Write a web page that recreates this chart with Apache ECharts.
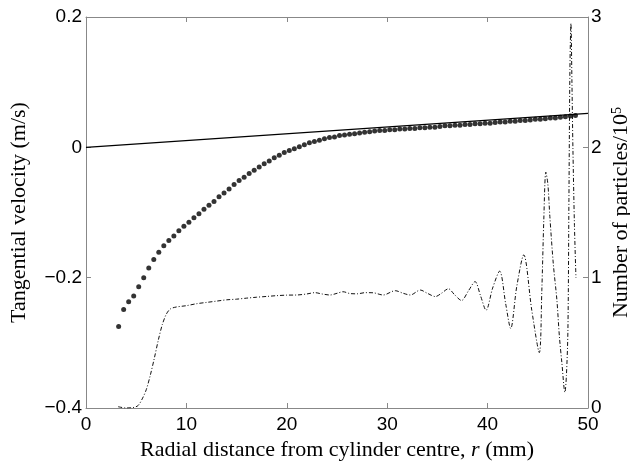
<!DOCTYPE html>
<html><head><meta charset="utf-8">
<script src="https://cdn.jsdelivr.net/npm/echarts@6/dist/echarts.min.js"></script>
<style>html,body{margin:0;padding:0;background:#fff}#c{width:630px;height:465px}</style>
</head><body><div id="c"></div>
<script>
// Solid line (solid-body rotation), left axis
const rLine = [0, 50];
const vLine = [0, 0.0522];

// Dotted series: tangential velocity (m/s), left axis
const rDots = [3.25,3.75,4.25,4.75,5.25,5.75,6.25,6.75,7.25,7.75,8.25,8.75,9.25,9.75,10.25,10.75,11.25,11.75,12.25,12.75,13.25,13.75,14.25,14.75,15.25,15.75,16.25,16.75,17.25,17.75,18.25,18.75,19.25,19.75,20.25,20.75,21.25,21.75,22.25,22.75,23.25,23.75,24.25,24.75,25.25,25.75,26.25,26.75,27.25,27.75,28.25,28.75,29.25,29.75,30.25,30.75,31.25,31.75,32.25,32.75,33.25,33.75,34.25,34.75,35.25,35.75,36.25,36.75,37.25,37.75,38.25,38.75,39.25,39.75,40.25,40.75,41.25,41.75,42.25,42.75,43.25,43.75,44.25,44.75,45.25,45.75,46.25,46.75,47.25,47.75,48.25,48.75];
const vDots = [-0.275,-0.249,-0.237,-0.228,-0.214,-0.200,-0.185,-0.172,-0.161,-0.151,-0.143,-0.136,-0.128,-0.121,-0.115,-0.108,-0.102,-0.095,-0.089,-0.083,-0.076,-0.070,-0.064,-0.057,-0.051,-0.046,-0.040,-0.035,-0.030,-0.025,-0.021,-0.016,-0.012,-0.008,-0.005,-0.002,0.001,0.004,0.007,0.009,0.011,0.013,0.015,0.016,0.018,0.019,0.020,0.021,0.022,0.023,0.024,0.025,0.026,0.026,0.027,0.027,0.028,0.028,0.029,0.029,0.030,0.030,0.031,0.031,0.032,0.033,0.033,0.034,0.034,0.035,0.035,0.036,0.036,0.037,0.037,0.038,0.039,0.039,0.040,0.040,0.041,0.041,0.042,0.043,0.043,0.044,0.045,0.045,0.046,0.047,0.048,0.049];

// Dash-dot series: number of particles / 1e5, right axis
const rPart = [3.2,4.0,4.8,5.2,5.6,6.0,6.4,6.8,7.2,7.6,8.0,8.4,9.0,10.0,11.0,12.0,13.0,14.0,15.0,16.0,17.0,18.0,19.0,20.0,21.0,22.0,22.8,23.5,24.3,25.0,25.6,26.3,27.0,27.8,28.6,29.6,30.8,31.6,32.3,33.3,34.0,34.8,35.4,36.1,36.7,37.4,38.1,38.75,39.3,39.85,40.5,41.2,41.8,42.3,42.9,43.6,44.4,45.15,45.4,45.6,45.8,46.0,46.2,46.55,46.9,47.15,47.4,47.7,47.85,48.0,48.1,48.2,48.3,48.4,48.5,48.65,48.8];
const nPart = [0.01,0.0,0.005,0.02,0.07,0.14,0.25,0.38,0.52,0.64,0.72,0.76,0.775,0.785,0.80,0.81,0.82,0.83,0.835,0.843,0.85,0.856,0.862,0.866,0.867,0.875,0.885,0.875,0.867,0.88,0.892,0.878,0.876,0.885,0.884,0.867,0.90,0.88,0.867,0.905,0.88,0.855,0.88,0.915,0.87,0.825,0.90,0.97,0.86,0.75,0.92,1.05,0.80,0.61,0.93,1.175,0.75,0.425,0.9,1.45,1.81,1.72,1.47,1.1,0.83,0.55,0.345,0.12,0.25,0.6,1.6,2.6,2.95,2.5,1.98,1.4,1.0];

// Tick values
const xTicks = {min: 0, max: 50, interval: 10};
const yLeftTicks = {min: -0.4, max: 0.2, interval: 0.2};
const yRightTicks = {min: 0, max: 3, interval: 1};

const zip = (a, b) => a.map((x, i) => [x, b[i]]);
const AX = '#888';
const tickFont = {fontFamily: 'Liberation Sans, Arial, sans-serif', fontSize: 19, color: '#000'};
const nameFont = {fontFamily: 'Liberation Serif, serif', fontSize: 22, color: '#000'};

const chart = echarts.init(document.getElementById('c'), null, {renderer: 'canvas'});
chart.setOption({
  animation: false,
  backgroundColor: '#fff',
  grid: {left: 86, right: 42, top: 17, bottom: 57, containLabel: false, outerBoundsMode: 'none'},
  xAxis: [{
    type: 'value', position: 'bottom', min: xTicks.min, max: xTicks.max, interval: xTicks.interval,
    axisLine: {onZero: false, lineStyle: {color: AX, width: 1}},
    axisTick: {inside: true, length: 5, lineStyle: {color: AX}},
    axisLabel: Object.assign({margin: 7}, tickFont),
    splitLine: {show: false},
    name: 'Radial distance from cylinder centre, {i|r} (mm)',
    nameLocation: 'middle', nameGap: 31,
    nameTextStyle: Object.assign({rich: {i: Object.assign({fontStyle: 'italic'}, nameFont)}}, nameFont)
  }, {
    type: 'value', position: 'top', min: xTicks.min, max: xTicks.max, interval: xTicks.interval,
    axisLine: {onZero: false, lineStyle: {color: AX, width: 1}},
    axisTick: {inside: true, length: 5, lineStyle: {color: AX}},
    axisLabel: {show: false}, splitLine: {show: false}
  }],
  yAxis: [{
    type: 'value', position: 'left', min: yLeftTicks.min, max: yLeftTicks.max, interval: yLeftTicks.interval,
    axisLine: {show: true, onZero: false, lineStyle: {color: AX, width: 1}},
    axisTick: {show: true, inside: true, length: 5, lineStyle: {color: AX}},
    axisLabel: Object.assign({margin: 4, formatter: v => {
      const s = (+v.toFixed(1)).toString();
      return s.replace('-', '\u2212');
    }}, tickFont),
    splitLine: {show: false},
    name: 'Tangential velocity (m/s)', nameLocation: 'middle', nameGap: 56, nameRotate: 90,
    nameTextStyle: nameFont
  }, {
    type: 'value', position: 'right', min: yRightTicks.min, max: yRightTicks.max, interval: yRightTicks.interval,
    axisLine: {show: true, onZero: false, lineStyle: {color: AX, width: 1}},
    axisTick: {show: true, inside: true, length: 5, lineStyle: {color: AX}},
    axisLabel: Object.assign({margin: 3}, tickFont),
    splitLine: {show: false},
    name: 'Number of particles/10{s|5}', nameLocation: 'middle', nameGap: 22, nameRotate: 90,
    nameMoveOverlap: false,
    nameTextStyle: Object.assign({rich: {s: Object.assign({}, nameFont, {fontSize: 14, verticalAlign: 'top', padding: [0, 0, 9, 0]})}}, nameFont)
  }],
  series: [{
    type: 'line', xAxisIndex: 0, yAxisIndex: 1, data: zip(rPart, nPart),
    smooth: 0.3, showSymbol: false, symbol: 'none',
    lineStyle: {color: '#111', width: 1, type: [4, 2, 1, 2]}
  }, {
    type: 'line', xAxisIndex: 0, yAxisIndex: 0, data: zip(rLine, vLine),
    showSymbol: false, symbol: 'none',
    lineStyle: {color: '#000', width: 1.3}
  }, {
    type: 'scatter', xAxisIndex: 0, yAxisIndex: 0, data: zip(rDots, vDots),
    symbol: 'circle', symbolSize: 5, itemStyle: {color: '#000'}
  }]
});
</script></body></html>
